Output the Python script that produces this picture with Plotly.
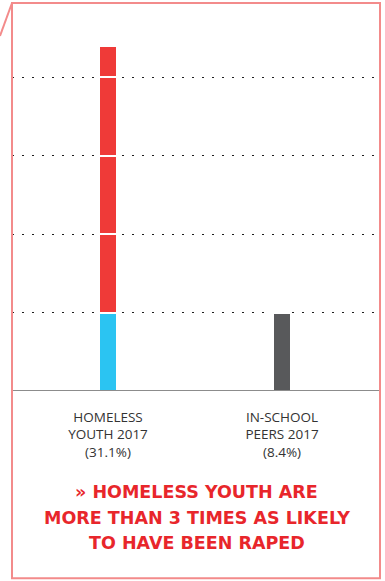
import plotly.graph_objects as go

# ---- data ----
categories = ["Homeless youth 2017", "In-school peers 2017"]
tick_labels = ["HOMELESS<br>YOUTH 2017<br>(31.1%)", "IN-SCHOOL<br>PEERS 2017<br>(8.4%)"]
rates = [31.1, 8.4]
# stacked bar segments as drawn (each full segment = one in-school unit)
segment_values = [
    [8.4, 8.4],
    [8.4, None],
    [8.4, None],
    [8.4, None],
    [3.3, None],
]
segment_colors = [
    ["#2bc4f2", "#58595b"],
    ["#ef3a38", "#ef3a38"],
    ["#ef3a38", "#ef3a38"],
    ["#ef3a38", "#ef3a38"],
    ["#ef3a38", "#ef3a38"],
]
grid_values = [8.4, 16.8, 25.2, 33.6]
headline_lines = [
    "» HOMELESS YOUTH ARE",
    "MORE THAN 3 TIMES AS LIKELY",
    "TO HAVE BEEN RAPED",
]

fig = go.Figure()
for vals, cols in zip(segment_values, segment_colors):
    fig.add_trace(go.Bar(
        x=categories, y=vals, width=0.103,
        marker=dict(color=cols, line=dict(color="white", width=2)),
        hoverinfo="skip", showlegend=False,
    ))

W, H = 385, 581
L, R, T, B = 12, 5, 3, 189.5
ph = H - T - B  # 388.5

def py(px):
    return (H - B - px) / ph

def pxx(px):
    return (px - L) / (W - L - R)

fig.update_layout(
    width=W, height=H,
    margin=dict(l=L, r=R, t=T, b=B, pad=0),
    barmode="stack",
    plot_bgcolor="white", paper_bgcolor="white",
    xaxis=dict(
        type="category", range=[-0.5517, 1.563],
        tickmode="array", tickvals=categories, ticktext=tick_labels,
        showgrid=False, zeroline=False, showline=False, ticks="",
        tickfont=dict(family="Open Sans", size=13.5, color="#333333"),
        ticklabelstandoff=16,
    ),
    yaxis=dict(
        range=[0, 41.52], tickmode="array", tickvals=grid_values,
        showticklabels=False, showgrid=True, gridcolor="#1e1e1e",
        gridwidth=1.3, griddash="2px,8px", zeroline=False, showline=False,
    ),
    shapes=[
        dict(type="line", xref="paper", yref="y", x0=0, x1=1, y0=0, y1=0,
             line=dict(color="rgba(0,0,0,0.45)", width=2), layer="above"),
        dict(type="rect", xref="paper", yref="paper", x0=0, x1=1,
             y0=py(579), y1=1, line=dict(color="#f38b8b", width=2),
             layer="above"),
        dict(type="line", xref="paper", yref="paper", x0=pxx(0), y0=py(36),
             x1=0, y1=1, line=dict(color="#f38b8b", width=2)),
    ],
)

for i, (line, ypx) in enumerate(zip(headline_lines, [493, 518.5, 544])):
    fig.add_annotation(
        text=line, xref="paper", yref="paper", x=pxx(196.5), y=py(ypx),
        xanchor="center", yanchor="middle", showarrow=False,
        font=dict(family="DejaVu Sans", size=17.5, color="#e8262b", weight="bold"),
    )

fig.write_html(
    "out.html",
    config={"displayModeBar": False},
    post_script="document.body.style.margin='0';document.body.style.overflow='hidden';",
)
